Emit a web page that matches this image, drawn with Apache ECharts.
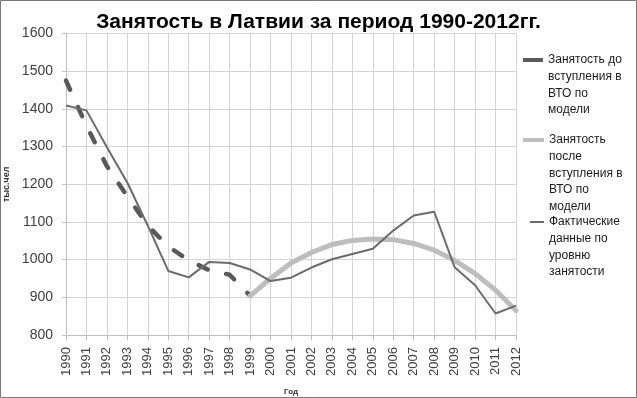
<!DOCTYPE html>
<html>
<head>
<meta charset="utf-8">
<script src="https://cdn.jsdelivr.net/npm/echarts@6/dist/echarts.min.js"></script>
<style>
  html, body { margin: 0; padding: 0; background: #fff; }
  #chart { width: 637px; height: 398px; }
</style>
</head>
<body>
<div id="chart"></div>
<script>
// Years on the x axis
const years = ['1990', '1991', '1992', '1993', '1994', '1995', '1996', '1997', '1998', '1999', '2000',
  '2001', '2002', '2003', '2004', '2005', '2006', '2007', '2008', '2009', '2010', '2011', '2012']

// Model before WTO accession (1990-1999)
const beforeWto = [1475, 1355, 1248, 1168, 1090, 1035, 998, 972, 960, 904,
  null, null, null, null, null, null, null, null, null, null, null, null, null]

// Model after WTO accession (1999-2012)
const afterWto = [null, null, null, null, null, null, null, null, null, 904,
  950, 991, 1019, 1040, 1051, 1055, 1053, 1043, 1025, 998, 963, 919, 865]

// Actual employment
const actual = [1409, 1396, 1298, 1204, 1090, 970, 953, 994, 991, 974, 943,
  952, 979, 1001, 1015, 1029, 1077, 1117, 1127, 980, 932, 857, 878]

const seriesNames = [
  'Занятость до\nвступления в\nВТО по\nмодели',
  'Занятость\nпосле\nвступления в\nВТО по\nмодели',
  'Фактические\nданные по\nуровню\nзанятости',
]

const FONT = '"Liberation Sans", Arial, sans-serif'
const LH = 16.6

// one legend per entry so the uneven spacing of the original can be kept.
// Blank lines in front push the first text line level with the icon.
function legendFor(name, top, left, icon) {
  const lines = name.split('\n').length
  return {
    data: [name],
    orient: 'vertical',
    left,
    top,
    padding: 0,
    icon: 'rect',
    itemWidth: icon.w,
    itemHeight: icon.h,
    itemStyle: { color: icon.color, borderWidth: 0 },
    selectedMode: false,
    formatter: n => '\n'.repeat(lines - 1) + n,
    textStyle: {
      fontFamily: FONT,
      fontSize: 12,
      color: '#1a1a1a',
      lineHeight: LH,
    },
  }
}

const chart = echarts.init(document.getElementById('chart'), null, { renderer: 'canvas' })

chart.setOption({
  backgroundColor: '#ffffff',
  animation: false,
  title: {
    text: 'Занятость в Латвии за период 1990-2012гг.',
    left: 'center',
    top: 12,
    padding: 0,
    textStyle: { fontFamily: FONT, fontSize: 21, fontWeight: 'bold', color: '#000' },
  },
  graphic: [{
    type: 'rect',
    shape: { x: 0.5, y: 0.5, width: 636, height: 397 },
    style: { fill: 'none', stroke: '#7a7a7a', lineWidth: 1 },
    silent: true,
  }],
  legend: [
    legendFor(seriesNames[0], 60 - 7 * LH / 2, 523, { w: 20, h: 4, color: '#595959' }),
    legendFor(seriesNames[1], 140 - 9 * LH / 2, 523, { w: 21, h: 4, color: '#bdbdbd' }),
    legendFor(seriesNames[2], 222 - 7 * LH / 2, 530, { w: 14, h: 2, color: '#6b6b6b' }),
  ],
  grid: { left: 66, right: 121, top: 33.5, bottom: 63, containLabel: false, outerBoundsMode: 'none' },
  xAxis: {
    type: 'category',
    data: years,
    boundaryGap: false,
    name: 'Год',
    nameLocation: 'middle',
    nameGap: 53,
    nameTextStyle: { fontFamily: FONT, fontSize: 8, fontWeight: 'bold', color: '#333' },
    axisLine: { lineStyle: { color: '#bfbfbf', width: 1 } },
    axisTick: { show: true, length: 5, lineStyle: { color: '#bfbfbf' } },
    axisLabel: { rotate: 90, margin: 12, fontFamily: FONT, fontSize: 13, color: '#404040', interval: 0 },
    splitLine: { show: true, lineStyle: { color: '#d4d4d4', width: 1 } },
  },
  yAxis: {
    type: 'value',
    min: 800,
    max: 1600,
    interval: 100,
    name: 'тыс.чел',
    nameLocation: 'middle',
    nameRotate: 90,
    nameGap: 54,
    nameTextStyle: { fontFamily: FONT, fontSize: 9, fontWeight: 'bold', color: '#333' },
    axisLine: { show: true, lineStyle: { color: '#bfbfbf', width: 1 } },
    axisTick: { show: true, length: 4, lineStyle: { color: '#bfbfbf' } },
    axisLabel: { margin: 13, fontFamily: FONT, fontSize: 14, color: '#404040', formatter: v => String(v) },
    splitLine: { show: true, lineStyle: { color: '#d4d4d4', width: 1 } },
  },
  series: [
    {
      name: seriesNames[0],
      type: 'line',
      data: beforeWto,
      showSymbol: false,
      symbol: 'none',
      itemStyle: { color: '#595959' },
      lineStyle: { color: '#595959', width: 4.5, type: [10, 19], cap: 'round' },
    },
    {
      name: seriesNames[1],
      type: 'line',
      data: afterWto,
      showSymbol: false,
      symbol: 'none',
      itemStyle: { color: '#bdbdbd' },
      lineStyle: { color: '#bdbdbd', width: 5, cap: 'round', join: 'round' },
    },
    {
      name: seriesNames[2],
      type: 'line',
      data: actual,
      showSymbol: false,
      symbol: 'none',
      itemStyle: { color: '#6b6b6b' },
      lineStyle: { color: '#6b6b6b', width: 2 },
    },
  ],
})
</script>
</body>
</html>
